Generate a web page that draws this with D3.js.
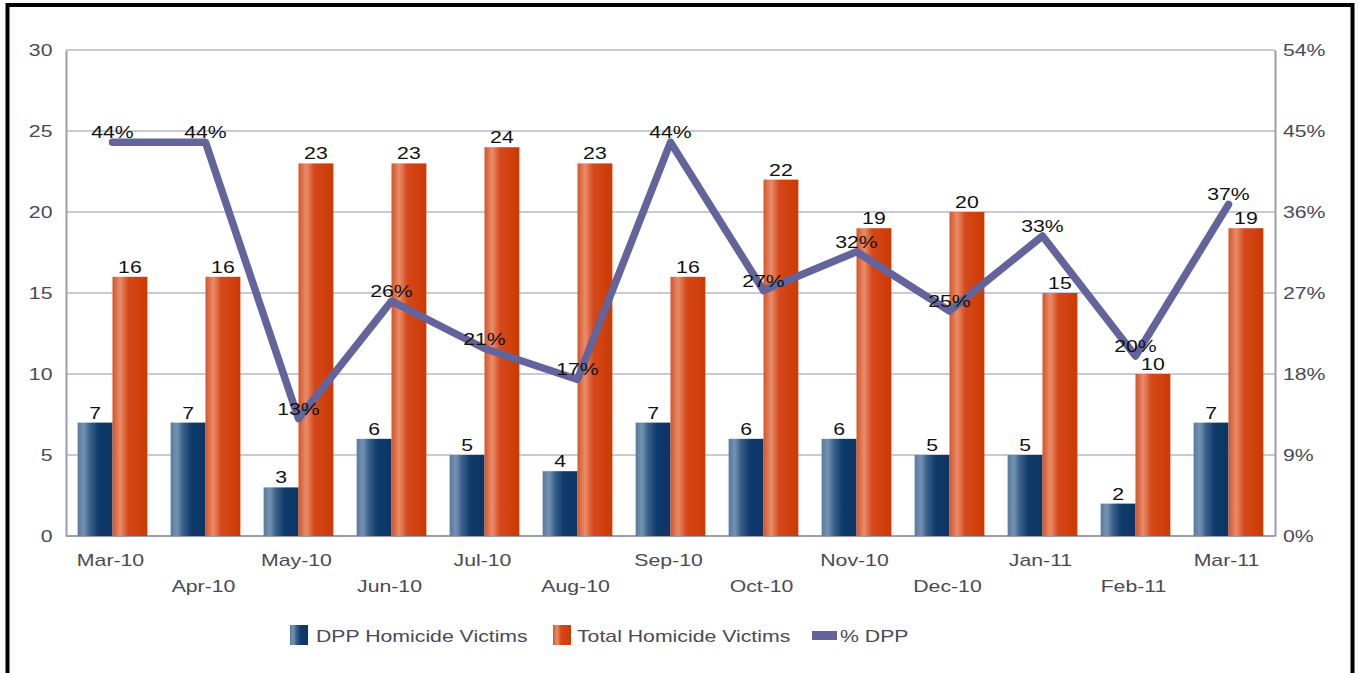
<!DOCTYPE html>
<html lang="en">
<head>
    <meta charset="UTF-8">
    <title>DPP Homicide Victims</title>
    <script src="https://d3js.org/d3.v7.min.js"></script>
    <style>
        body { margin: 0; background: #fff; }
        text { font-family: "Liberation Sans", Arial, sans-serif; }
    </style>
</head>
<body>
    <svg width="1358" height="673"></svg>
    <script>
        // data
        var months = ["Mar-10", "Apr-10", "May-10", "Jun-10", "Jul-10", "Aug-10", "Sep-10",
                      "Oct-10", "Nov-10", "Dec-10", "Jan-11", "Feb-11", "Mar-11"];
        var dppVictims = [7, 7, 3, 6, 5, 4, 7, 6, 6, 5, 5, 2, 7];
        var totalVictims = [16, 16, 23, 23, 24, 23, 16, 22, 19, 20, 15, 10, 19];
        var pctDpp = [43.75, 43.75, 13.04, 26.09, 20.83, 17.39, 43.75, 27.27, 31.58, 25, 33.33, 20, 36.84];
        var leftTicks = [0, 5, 10, 15, 20, 25, 30];
        var rightTicks = [0, 9, 18, 27, 36, 45, 54];

        var svg = d3.select("svg");
        var plotLeft = 66, plotRight = 1275, plotTop = 50, plotBottom = 536;
        var sx = 1.25; // text in the picture is drawn wide

        var x = d3.scaleBand().domain(months).range([plotLeft, plotRight])
            .paddingInner(0.25).paddingOuter(0.125);
        var xs = d3.scaleBand().domain(["dpp", "total"]).range([0, x.bandwidth()]);
        var y = d3.scaleLinear().domain([0, 30]).range([plotBottom, plotTop]);
        var y2 = d3.scaleLinear().domain([0, 54]).range([plotBottom, plotTop]);

        var defs = svg.append("defs");
        function grad(id, stops) {
            var g = defs.append("linearGradient").attr("id", id)
                .attr("x1", "0%").attr("x2", "100%").attr("y1", "0%").attr("y2", "0%");
            stops.forEach(function(s) {
                g.append("stop").attr("offset", s[0]).attr("stop-color", s[1]);
            });
        }
        grad("gBlue", [["0%", "#587a9e"], ["18%", "#7393b3"], ["35%", "#3c6189"], ["60%", "#0e3b6b"], ["100%", "#0c3563"]]);
        grad("gOrange", [["0%", "#d55428"], ["22%", "#e88d6b"], ["45%", "#d5481a"], ["100%", "#cc3a03"]]);

        // frame
        svg.append("rect").attr("x", 7.5).attr("y", 5).attr("width", 1345).attr("height", 700)
            .attr("fill", "none").attr("stroke", "#000").attr("stroke-width", 4);

        // gridlines
        svg.append("g").selectAll("line").data(leftTicks).enter().append("line")
            .attr("x1", plotLeft).attr("x2", plotRight)
            .attr("y1", d => y(d)).attr("y2", d => y(d))
            .attr("stroke", d => d === 0 ? "#9c9cb2" : "#cacad6").attr("stroke-width", 2);

        // axes
        var yAxis = svg.append("g").attr("transform", "translate(" + plotLeft + ",0)")
            .call(d3.axisLeft(y).tickValues(leftTicks).tickSize(0).tickPadding(0));
        var yAxis2 = svg.append("g").attr("transform", "translate(" + plotRight + ",0)")
            .call(d3.axisRight(y2).tickValues(rightTicks).tickSize(0).tickFormat(d => d + "%"));
        [yAxis, yAxis2].forEach(function(a) {
            a.select(".domain").attr("stroke", "#9c9cb2").attr("stroke-width", 2);
            a.selectAll("text").attr("font-size", 17).attr("fill", "#4a4a55")
                .attr("font-family", "Liberation Sans, Arial, sans-serif");
        });
        yAxis.selectAll("text").attr("x", -10.8).attr("transform", "scale(" + sx + ",1)");
        yAxis2.selectAll("text").attr("x", 6.4).attr("transform", "scale(" + sx + ",1)");

        var xAxis = svg.append("g").attr("transform", "translate(0," + plotBottom + ")")
            .call(d3.axisBottom(x).tickSize(0));
        xAxis.select(".domain").remove();
        xAxis.selectAll("text")
            .attr("font-size", 17).attr("fill", "#4a4a55")
            .attr("font-family", "Liberation Sans, Arial, sans-serif")
            .attr("dy", 0).attr("x", -2 / sx)
            .attr("y", (d, i) => i % 2 === 0 ? 30 : 56)
            .attr("transform", "scale(" + sx + ",1)");

        // bars
        var groups = svg.append("g").selectAll("g").data(months).enter().append("g")
            .attr("transform", d => "translate(" + x(d) + ",0)");
        groups.append("rect")
            .attr("x", xs("dpp")).attr("width", xs.bandwidth())
            .attr("y", (d, i) => y(dppVictims[i]))
            .attr("height", (d, i) => plotBottom - y(dppVictims[i]))
            .attr("fill", "url(#gBlue)");
        groups.append("rect")
            .attr("x", xs("total")).attr("width", xs.bandwidth())
            .attr("y", (d, i) => y(totalVictims[i]))
            .attr("height", (d, i) => plotBottom - y(totalVictims[i]))
            .attr("fill", "url(#gOrange)");

        // % DPP line
        var line = d3.line()
            .x((d, i) => x(months[i]) + x.bandwidth() / 2)
            .y(d => y2(d));
        svg.append("path").datum(pctDpp).attr("d", line)
            .attr("fill", "none").attr("stroke", "#64649c").attr("stroke-width", 7.5)
            .attr("stroke-linejoin", "round").attr("stroke-linecap", "round");

        // labels
        function label(px, py, txt) {
            svg.append("text").attr("transform", "translate(" + px + "," + py + ") scale(" + sx + ",1)")
                .attr("text-anchor", "middle").attr("font-size", 17).attr("fill", "#111")
                .text(txt);
        }
        months.forEach(function(m, i) {
            label(x(m) + xs("dpp") + xs.bandwidth() / 2, y(dppVictims[i]) - 4, dppVictims[i]);
            label(x(m) + xs("total") + xs.bandwidth() / 2, y(totalVictims[i]) - 4, totalVictims[i]);
        });
        months.forEach(function(m, i) {
            label(x(m) + x.bandwidth() / 2, y2(pctDpp[i]) - 4, Math.round(pctDpp[i]) + "%");
        });

        // legend
        var legend = svg.append("g");
        legend.append("rect").attr("x", 290).attr("y", 625).attr("width", 18).attr("height", 20).attr("fill", "url(#gBlue)");
        legend.append("rect").attr("x", 553).attr("y", 625).attr("width", 18).attr("height", 20).attr("fill", "url(#gOrange)");
        legend.append("rect").attr("x", 812).attr("y", 631).attr("width", 25).attr("height", 9).attr("fill", "#64649c");
        [["DPP Homicide Victims", 316], ["Total Homicide Victims", 577], ["% DPP", 840]].forEach(function(l) {
            legend.append("text").attr("transform", "translate(" + l[1] + ",642) scale(" + sx + ",1)")
                .attr("font-size", 17).attr("fill", "#4a4a55").text(l[0]);
        });
    </script>
</body>
</html>
